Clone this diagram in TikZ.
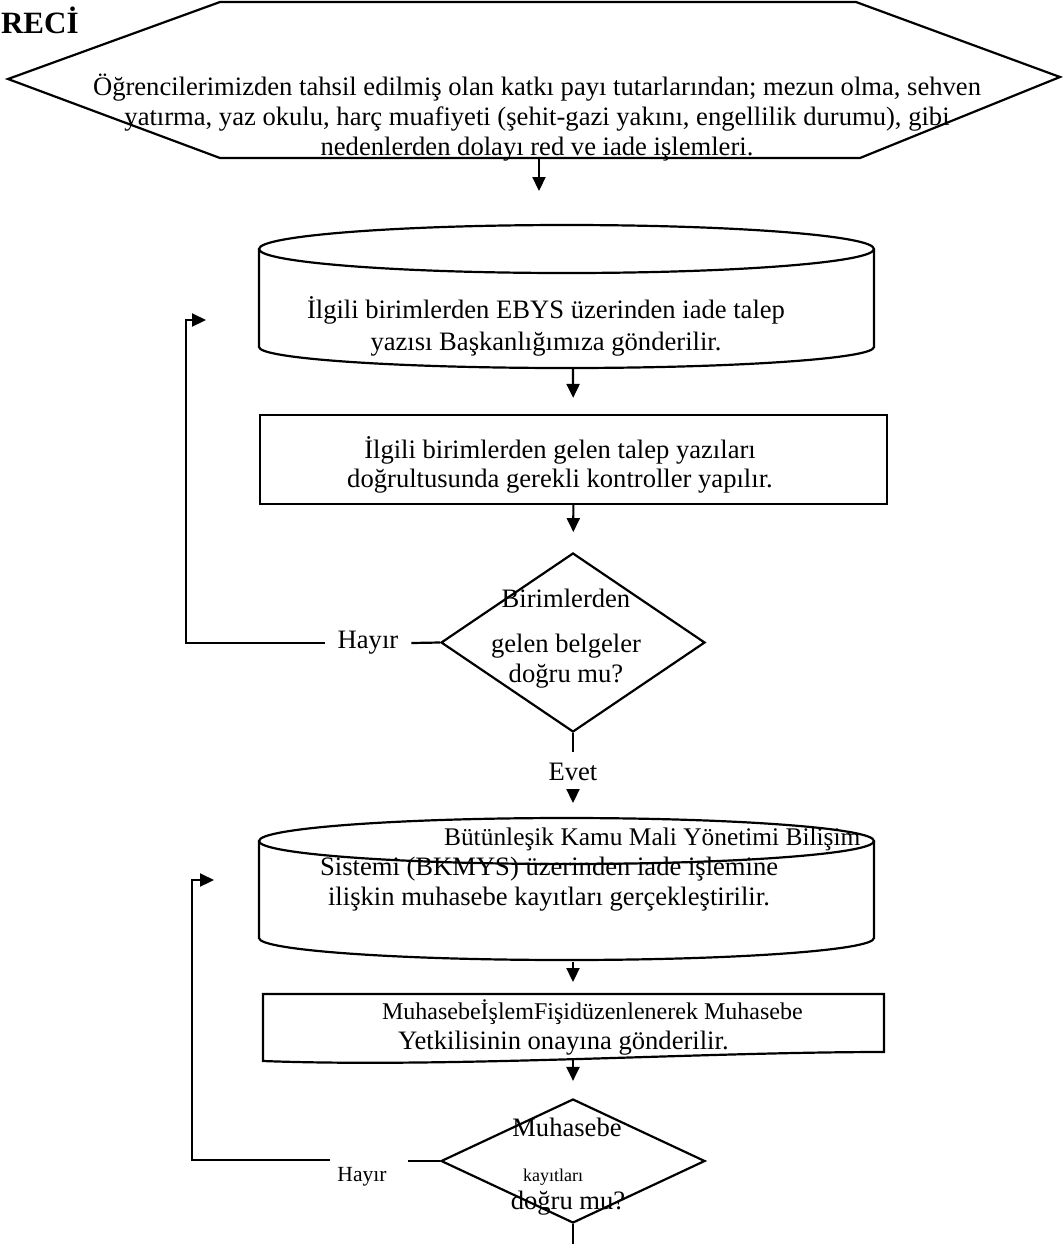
\documentclass[tikz,border=0pt]{standalone}
\usepackage{fontspec}
\setmainfont{Liberation Serif}
\usetikzlibrary{arrows.meta,shapes.geometric}

\begin{document}
\begin{tikzpicture}[x=0.5pt,y=-0.5pt,line width=1.1pt,
    >={Triangle[length=7pt,width=6.5pt]},
    txt/.style={inner sep=0pt,align=center,font=\fontsize{13.3}{15}\selectfont},
    decision/.style={draw,diamond,inner sep=0pt,minimum width=132pt}]
  \useasboundingbox (0,0) rectangle (1062,1244);
  \node[anchor=base west,inner sep=0pt,font=\fontsize{15.5}{18}\selectfont\bfseries] (title) at (0,33) {RECİ};
  % altigen
  \draw (8,79) -- (220,2) -- (856,2) -- (1060,77) -- (860,158) -- (220,158) -- cycle;
  \node[txt] (start) at (537,118) {Öğrencilerimizden tahsil edilmiş olan katkı payı tutarlarından; mezun olma, sehven\\
    yatırma, yaz okulu, harç muafiyeti (şehit-gazi yakını, engellilik durumu), gibi\\
    nedenlerden dolayı red ve iade işlemleri.};
  \coordinate (hexbot) at (539,158);
  \coordinate (c1top) at (539,225);
  \draw[->,shorten >=17pt] (hexbot) -- (c1top);
  % silindir 1
  \draw (259,249) -- (259,347) arc[start angle=180,end angle=0,x radius=307.5,y radius=21] -- (874,249);
  \draw (566.5,249) ellipse [x radius=307.5,y radius=24];
  \node[txt,font=\fontsize{13.3}{16}\selectfont] (request) at (546,326) {İlgili birimlerden EBYS üzerinden iade talep\\
    yazısı Başkanlığımıza gönderilir.};
  \coordinate (c1bot) at (573,368);
  \node[draw,minimum width=313.5pt,minimum height=44.5pt] (check) at (573.5,459.5) {};
  \node[txt,font=\fontsize{13.3}{14.5}\selectfont] (checktxt) at (560,465) {İlgili birimlerden gelen talep yazıları\\
    doğrultusunda gerekli kontroller yapılır.};
  \draw[->,shorten >=8pt] (c1bot) -- (check);
  % karar 1
  \node[decision,minimum height=89.5pt] (dec1) at (573,642.5) {};
  \draw[->,shorten >=10pt] (check) -- (dec1);
  \node[txt] (dec1a) at (566,598) {Birimlerden};
  \node[txt] (dec1b) at (566,661) {gelen belgeler\\doğru mu?};
  \node[txt,inner xsep=6pt] (no1) at (368,643) {Hayır};
  \coordinate (in1) at (206,320);
  \draw (dec1.west) -- (no1.east);
  \draw[->] (no1.west) -- ++(-139,0) |- (in1);
  \node[txt,inner ysep=5pt] (yes1) at (573,772) {Evet};
  \draw (dec1.south) -- (yes1.north);
  \coordinate (c2top) at (573,818);
  \draw[->,shorten >=7.5pt] (yes1.south) -- (c2top);
  % silindir 2
  \draw (259,841) -- (259,938) arc[start angle=180,end angle=0,x radius=307.5,y radius=22] -- (874,841);
  \draw (566.5,841) ellipse [x radius=307.5,y radius=23];
  \node[txt,align=left,anchor=west] (record) at (319,870) {\hspace*{62pt}{\fontsize{12.7}{15}\selectfont Bütünleşik Kamu Mali Yönetimi Bilişim}\\
    Sistemi (BKMYS) üzerinden iade işlemine\\
    \hspace*{4pt}ilişkin muhasebe kayıtları gerçekleştirilir.};
  \coordinate (c2bot) at (573,962);
  \coordinate (doctop) at (573,994);
  \draw[->,shorten >=6pt] (c2bot) -- (doctop);
  % belge
  \draw (263,994) -- (884,994) -- (884,1052) .. controls (700,1052) and (450,1068) .. (263,1061) -- cycle;
  \node[txt,align=left,anchor=west] (slip) at (381,1027) {{\fontsize{12}{15}\selectfont MuhasebeİşlemFişidüzenlenerek Muhasebe}\\
    \hspace*{8pt}Yetkilisinin onayına gönderilir.};
  \coordinate (docbot) at (573,1059);
  % karar 2
  \node[decision,minimum height=62pt] (dec2) at (573,1161) {};
  \draw[->,shorten >=8.5pt] (docbot) -- (dec2);
  \node[txt] (dec2a) at (567,1127) {Muhasebe};
  \node[txt,font=\fontsize{9}{11}\selectfont] (dec2b) at (553,1177) {kayıtları};
  \node[txt] (dec2c) at (568,1203) {doğru mu?};
  \node[txt,font=\fontsize{10.8}{12}\selectfont] (no2) at (362,1177) {Hayır};
  \coordinate (stub2) at (408,1161);
  \coordinate (back2) at (330,1160);
  \coordinate (in2) at (214,880);
  \draw (dec2.west) -- (stub2);
  \draw[->] (back2) -- ++(-138,0) |- (in2);
  \coordinate (out2) at (573,1244);
  \draw (dec2.south) -- (out2);
\end{tikzpicture}
\end{document}
